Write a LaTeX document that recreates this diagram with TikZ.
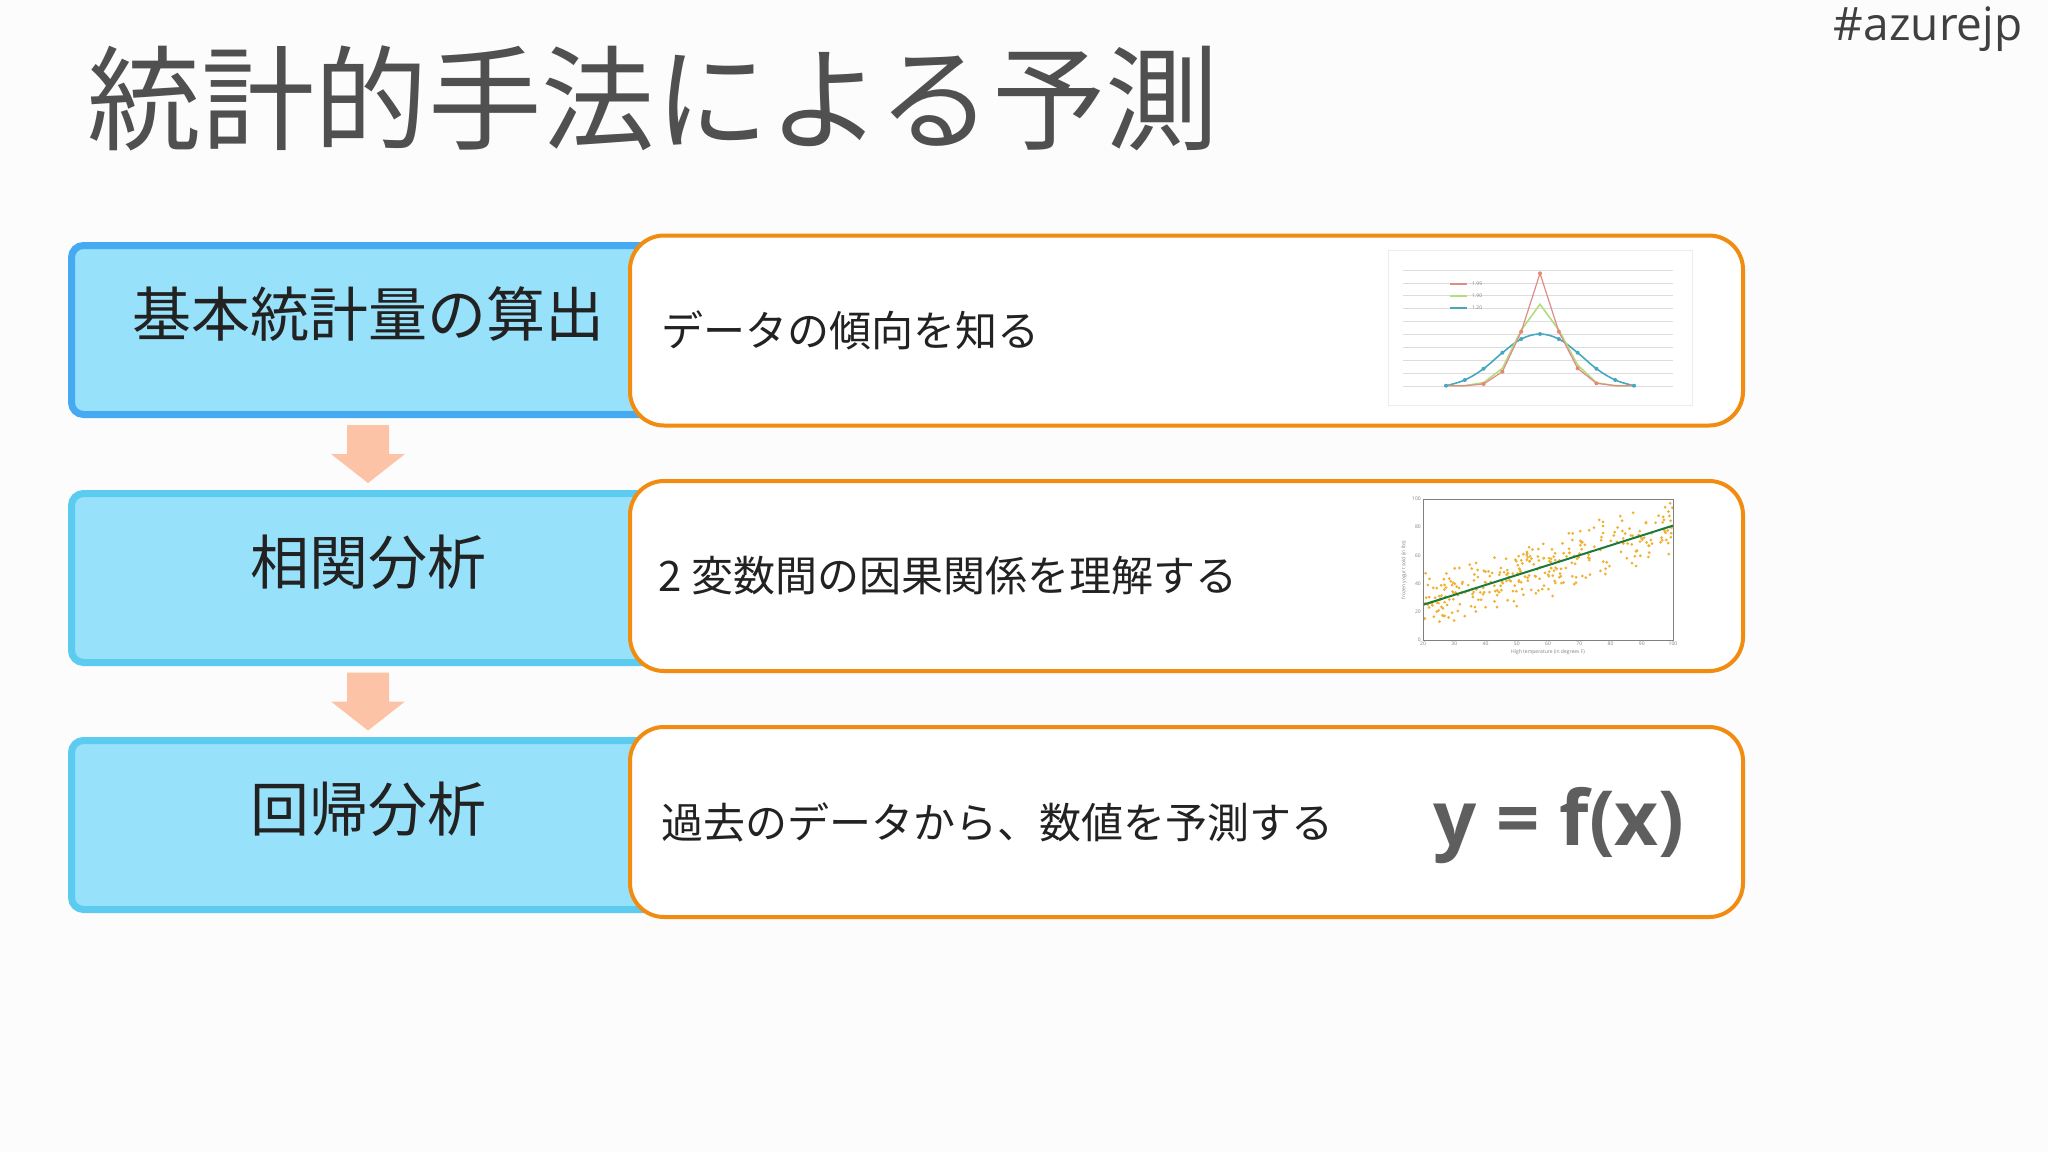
\documentclass[tikz,border=0pt]{standalone}
\usepackage{fontspec}
\setmainfont{Noto Sans CJK JP}
\newfontfamily\latinfont{Open Sans}
\usetikzlibrary{positioning}
\definecolor{pagebg}{HTML}{FCFCFD}
\definecolor{titlegray}{HTML}{505050}
\definecolor{tagegray}{HTML}{404040}
\definecolor{stepblue}{HTML}{45AAF2}
\definecolor{stepcyan}{HTML}{5BCBF0}
\definecolor{stepfill}{HTML}{98E1FA}
\definecolor{frameorange}{HTML}{F28C10}
\definecolor{peach}{HTML}{FCC3A6}
\definecolor{inktext}{HTML}{222222}
\definecolor{formulagray}{HTML}{5E5E5E}
\definecolor{gridgray}{HTML}{DDDDDD}
\definecolor{curvered}{HTML}{E08A8A}
\definecolor{curvegreen}{HTML}{B5DC7A}
\definecolor{curveblue}{HTML}{45A8C0}
\definecolor{dotorange}{HTML}{F0B030}
\definecolor{fitgreen}{HTML}{1B7A3A}
\begin{document}
\begin{tikzpicture}[x=1pt,y=-1pt,
  stepbox/.style={draw=stepcyan,line width=7,fill=stepfill,rounded corners=12,minimum width=593,minimum height=169},
  steplabel/.style={text=inktext,font=\fontsize{59}{64}\selectfont},
  descbox/.style={draw=frameorange,line width=4,fill=white,rounded corners=34,minimum width=1113,minimum height=190},
  desclabel/.style={text=inktext,font=\fontsize{42}{46}\selectfont,anchor=west},
  downarrow/.style={fill=peach},
  ticklabel/.style={text=gray,font=\latinfont\fontsize{5}{6}\selectfont,inner sep=1}]
\fill[pagebg] (0,0) rectangle (2048,1152);
\useasboundingbox (0,0) rectangle (2048,1152);

\node[anchor=west,text=titlegray,font=\fontsize{113.5}{120}\selectfont] (title) at (84,98) {統計的手法による予測};
\node[anchor=east,text=tagegray,font=\latinfont\fontsize{46}{50}\selectfont] (tag) at (2026,29) {\#azurejp};

\node[stepbox,draw=stepblue] (stat) at (368,330) {};
\node[stepbox] (corr) at (368,578) {};
\node[stepbox] (regr) at (368,825) {};
\node[steplabel] (statlabel) at ([yshift=16]stat.center) {基本統計量の算出};
\node[steplabel] (corrlabel) at ([yshift=16]corr.center) {相関分析};
\node[steplabel] (regrlabel) at ([yshift=16]regr.center) {回帰分析};

\path (stat.south) -- (corr.north) coordinate[midway] (a1);
\path (corr.south) -- (regr.north) coordinate[midway] (a2);
\foreach \a in {a1,a2}
  \fill[downarrow,shift={(\a)}] (-21,-29) -- (21,-29) -- (21,0) -- (37,0) -- (0,29) -- (-37,0) -- (-21,0) -- cycle;

\node[descbox] (trend) at (1186.5,330.5) {};
\node[descbox] (cause) at (1186.5,576) {};
\node[descbox] (pred) at (1186.5,822) {};
\node[desclabel] (trendlabel) at ([xshift=30]trend.west) {データの傾向を知る};
\node[desclabel] (causelabel) at ([xshift=27]cause.west) {2 変数間の因果関係を理解する};
\node[desclabel] (predlabel) at ([xshift=30]pred.west) {過去のデータから、数値を予測する};
\node[text=formulagray,font=\latinfont\bfseries\fontsize{76}{82}\selectfont] (formula) at (1559,826) {y = f(x)};

\draw[draw=gray!15,fill=white] (1388,250) rectangle (1692,405);
\foreach \k in {0,...,9}
  \draw[gridgray,line width=0.8] (1403,270+12.9*\k) -- (1673,270+12.9*\k);
\draw[curveblue,line width=1.6] plot[smooth,tension=0.6] coordinates {(1446,385.7) (1464.8,380) (1483.6,368.7) (1502.4,352.7) (1521.2,339) (1540,334) (1558.8,339) (1577.6,352.7) (1596.4,368.7) (1615.2,380) (1634,385.7)};
\draw[curvegreen,line width=1.6] plot coordinates {(1446,385.7) (1464.8,385.7) (1483.6,382.7) (1502.4,368.3) (1521.2,330) (1540,304.3) (1558.8,330) (1577.6,365) (1596.4,382.7) (1615.2,385.7) (1634,385.7)};
\draw[curvered,line width=1.2] plot coordinates {(1446,385.7) (1464.8,385.7) (1483.6,384) (1502.4,371.7) (1521.2,331.7) (1540,273.3) (1558.8,331.7) (1577.6,368.3) (1596.4,383.3) (1615.2,385.7) (1634,385.7)};
\foreach \px/\py in {1446/385.7,1464.8/380,1483.6/368.7,1502.4/352.7,1521.2/339,1540/334,1558.8/339,1577.6/352.7,1596.4/368.7,1615.2/380,1634/385.7}
  \fill[curveblue] (\px,\py) circle[radius=2];
\foreach \px/\py in {1483.6/384,1502.4/371.7,1521.2/331.7,1540/273.3,1558.8/331.7,1577.6/368.3,1596.4/383.3}
  \fill[curvered!80!orange] (\px,\py) circle[radius=2];
\draw[curvered,line width=1.2] (1450,284) -- (1467,284);
\draw[curvegreen,line width=1.2] (1450,296) -- (1467,296);
\draw[curveblue,line width=1.2] (1450,308) -- (1467,308);
\node[ticklabel,anchor=west] at (1471,284) {1.99};
\node[ticklabel,anchor=west] at (1471,296) {1.90};
\node[ticklabel,anchor=west] at (1471,308) {1.20};

\pgfmathsetseed{42}
\foreach \i in {1,...,330}{
  \pgfmathsetmacro{\tx}{20+80*rnd}
  \pgfmathsetmacro{\ty}{max(1,min(97,25+0.7*(\tx-20)+12*(rand+rand)))}
  \fill[dotorange] ({1423+(\tx-20)*3.125},{640-\ty*1.41}) circle[radius=1.5];
}
\draw[fitgreen,line width=2] (1423,604.8) -- (1673,525.6);
\draw[gray,line width=0.6] (1423,499) rectangle (1673,640);
\foreach \v in {0,20,...,100}
  \node[ticklabel,anchor=east] at (1422,640-1.41*\v) {\v};
\foreach \v in {20,30,...,100}
  \node[ticklabel,anchor=north] at (1423+3.125*\v-62.5,641) {\v};
\node[ticklabel] at (1548,652) {High temperature (in degrees F)};
\node[ticklabel,rotate=90] at (1404,570) {frozen yogurt sold (in lbs)};
\end{tikzpicture}
\end{document}
